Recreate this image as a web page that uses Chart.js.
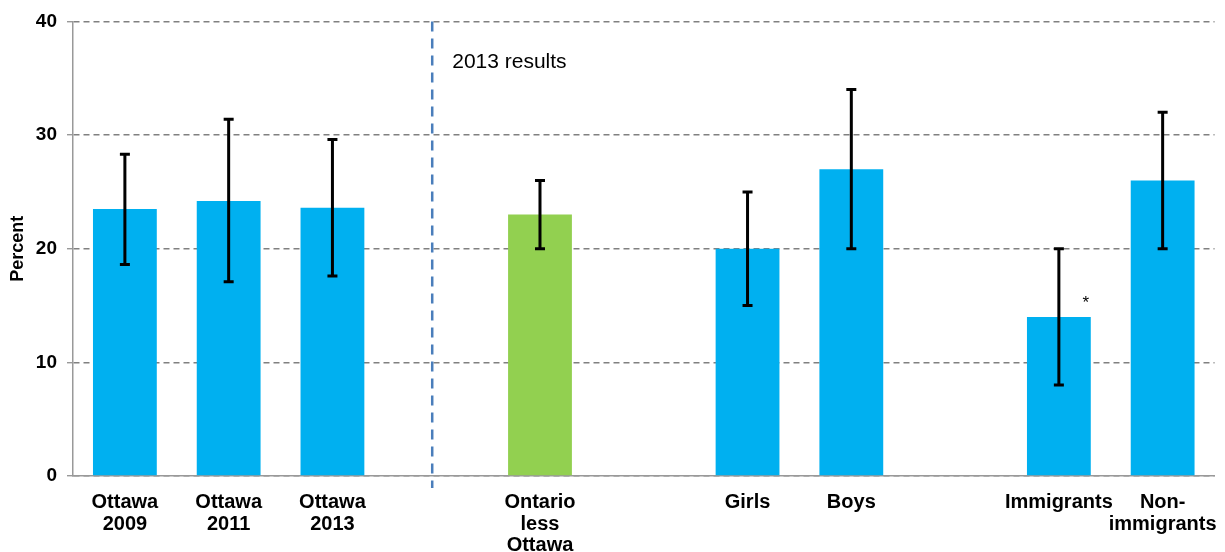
<!DOCTYPE html>
<html>
<head>
<meta charset="utf-8">
<script src="https://cdn.jsdelivr.net/npm/chart.js@4.4.1/dist/chart.umd.min.js"></script>
<style>
  html, body { margin: 0; padding: 0; background: #fff; }
  #wrap { width: 1225px; height: 552px; position: relative; }
</style>
</head>
<body>
<div id="wrap"><canvas id="c" width="1225" height="552"></canvas></div>
<script>
// Categories (empty slots separate the groups)
const categories = [
  ['Ottawa', '2009'], ['Ottawa', '2011'], ['Ottawa', '2013'], '',
  ['Ontario', 'less', 'Ottawa'], '',
  'Girls', 'Boys', '',
  'Immigrants', ['Non-', 'immigrants']
];
// Percent values
const values = [23.5, 24.2, 23.6, null, 23, null, 20, 27, null, 14, 26];
// 95% confidence interval bounds
const lowerCI = [18.6, 17.1, 17.6, null, 20, null, 15, 20, null, 8, 20];
const upperCI = [28.3, 31.4, 29.6, null, 26, null, 25, 34, null, 20, 32];
// Marked as significantly different
const flagged = [false, false, false, false, false, false, false, false, false, true, false];
const yTicks = [0, 10, 20, 30, 40];
const sectionLabel = '2013 results';
const sectionStart = 3; // slot holding the divider line

const BLUE = '#00B0F0';
const GREEN = '#92D050';
const barColors = categories.map((c, i) => (i === 4 ? GREEN : BLUE));
const FONT = '"Liberation Sans", Arial, sans-serif';

const errorBars = {
  id: 'errorBars',
  afterDatasetsDraw(chart) {
    const { ctx, scales: { x, y } } = chart;
    ctx.save();
    ctx.strokeStyle = '#000';
    ctx.lineWidth = 3;
    ctx.lineCap = 'butt';
    values.forEach((v, i) => {
      if (v === null) return;
      const px = x.getPixelForValue(i);
      const top = y.getPixelForValue(upperCI[i]);
      const bot = y.getPixelForValue(lowerCI[i]);
      ctx.beginPath();
      ctx.moveTo(px, top); ctx.lineTo(px, bot);
      ctx.moveTo(px - 5, top); ctx.lineTo(px + 5, top);
      ctx.moveTo(px - 5, bot); ctx.lineTo(px + 5, bot);
      ctx.stroke();
      if (flagged[i]) {
        ctx.fillStyle = '#000';
        ctx.font = '17px ' + FONT;
        ctx.textAlign = 'center';
        ctx.textBaseline = 'middle';
        ctx.fillText('*', px + 27, y.getPixelForValue(v + 1.2));
      }
    });
    ctx.restore();
  }
};

const divider = {
  id: 'divider',
  afterDraw(chart) {
    const { ctx, scales: { x, y }, chartArea } = chart;
    const lx = x.getPixelForValue(sectionStart) - 4;
    ctx.save();
    ctx.strokeStyle = '#4A7EBB';
    ctx.lineWidth = 2.5;
    ctx.setLineDash([10, 7]);
    ctx.beginPath();
    ctx.moveTo(lx, chartArea.top);
    ctx.lineTo(lx, chartArea.bottom + 12);
    ctx.stroke();
    ctx.setLineDash([]);
    ctx.fillStyle = '#000';
    ctx.font = '21px ' + FONT;
    ctx.textAlign = 'left';
    ctx.textBaseline = 'middle';
    ctx.fillText(sectionLabel, lx + 20, y.getPixelForValue(36.4));
    ctx.restore();
  }
};

new Chart(document.getElementById('c'), {
  type: 'bar',
  data: {
    labels: categories,
    datasets: [{
      data: values,
      backgroundColor: barColors,
      borderWidth: 0,
      categoryPercentage: 1,
      barPercentage: 0.615
    }]
  },
  options: {
    responsive: false,
    animation: false,
    layout: { padding: { top: 20, right: 10, left: 0, bottom: 0 } },
    plugins: { legend: { display: false }, tooltip: { enabled: false } },
    scales: {
      x: {
        grid: { display: false },
        border: { display: true, color: '#999', width: 1.5 },
        ticks: {
          autoSkip: false, maxRotation: 0, minRotation: 0,
          color: '#000', padding: 8,
          font: { family: FONT, size: 20, weight: 'bold', lineHeight: 1.07 }
        },
        afterFit(s) { s.height = 76; }
      },
      y: {
        min: 0, max: 40,
        afterBuildTicks(s) { s.ticks = yTicks.map(v => ({ value: v })); },
        grid: {
          color: '#808080', lineWidth: 1.4,
          tickLength: 6, tickColor: '#999', tickBorderDash: [],
          drawTicks: true
        },
        border: { display: true, color: '#999', width: 1.5, dash: [6, 4] },
        ticks: {
          color: '#000', padding: 10,
          font: { family: FONT, size: 19, weight: 'bold' }
        },
        title: {
          display: true, text: 'Percent', color: '#000',
          padding: { top: 7, bottom: 0 },
          font: { family: FONT, size: 18, weight: 'bold' }
        },
        afterFit(s) { s.width = 73; }
      }
    }
  },
  plugins: [errorBars, divider]
});
</script>
</body>
</html>
